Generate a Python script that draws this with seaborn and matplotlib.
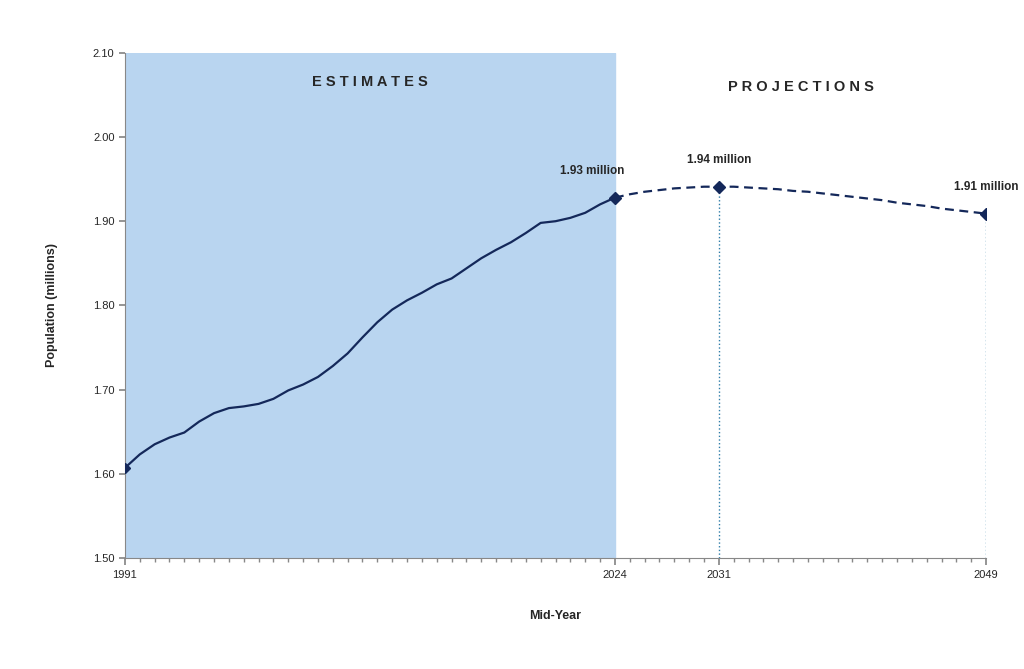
import seaborn as sns
import matplotlib.pyplot as plt
import numpy as np

sns.set_theme(style="white")
plt.rcParams['font.family'] = ['Liberation Sans', 'DejaVu Sans']

# Estimates, mid-year population (millions)
est_years = list(range(1991, 2025))
est_values = [1.607, 1.623, 1.635, 1.643, 1.649, 1.662, 1.672, 1.678, 1.680,
              1.683, 1.689, 1.699, 1.706, 1.715, 1.728, 1.743, 1.762, 1.780,
              1.795, 1.806, 1.815, 1.825, 1.832, 1.844, 1.856, 1.866, 1.875,
              1.886, 1.898, 1.900, 1.904, 1.910, 1.920, 1.928]
# Projections
proj_years = list(range(2024, 2050))
proj_values = [1.928, 1.932, 1.935, 1.937, 1.939, 1.940, 1.941, 1.941, 1.941,
               1.940, 1.939, 1.938, 1.936, 1.935, 1.933, 1.931, 1.929, 1.927,
               1.925, 1.922, 1.920, 1.918, 1.915, 1.913, 1.911, 1.909]
marked_years = [2024, 2031, 2049]
marked_labels = ["1.93 million", "1.94 million", "1.91 million"]

NAVY = "#14285a"
fig = plt.figure(figsize=(10.24, 6.69), dpi=100)
ax = fig.add_axes([0.122, 0.166, 0.841, 0.755])

ax.axvspan(est_years[0], est_years[-1], color="#b9d5f0", zorder=0)
sns.lineplot(x=est_years, y=est_values, ax=ax, color=NAVY, lw=1.6)
ax.plot(proj_years, proj_values, color=NAVY, lw=1.6, ls=(0, (4, 2.5)))

proj = dict(zip(proj_years, proj_values))
for yr, lab in zip(marked_years, marked_labels):
    v = proj[yr]
    ax.plot(yr, v, marker="D", color=NAVY, ms=6, zorder=5)
    if yr != 2024:
        ax.plot([yr, yr], [1.5, v], color="#2e7ca8", lw=1, ls=":")
    dx = -1.5 if yr == 2024 else 0
    ax.text(yr + dx, v + 0.025, lab, ha="center", va="bottom",
            fontsize=8.5, fontweight="bold")
ax.plot(est_years[0], est_values[0], marker="D", color=NAVY, ms=5, zorder=5)

ax.text(2007.5, 2.065, "ESTIMATES", ha="center", va="center", fontsize=10.5,
        fontweight="bold", family="Liberation Sans")
ax.text(2036.5, 2.06, "P R O J E C T I O N S", ha="center", va="center",
        fontsize=10.5, fontweight="bold")
ax.texts[-2].set_text("E S T I M A T E S")

ax.set_xlim(1991, 2049)
ax.set_ylim(1.5, 2.1)
ax.set_yticks(np.arange(1.5, 2.11, 0.1))
ax.set_yticklabels([f"{t:.2f}" for t in np.arange(1.5, 2.11, 0.1)], fontsize=8)
ax.set_xticks([1991, 2024, 2031, 2049])
ax.set_xticklabels(["1991", "2024", "2031", "2049"], fontsize=8)
ax.set_xticks(range(1991, 2050), minor=True)
ax.tick_params(axis="x", which="major", length=5, color="#888888", direction="out", bottom=True)
ax.tick_params(axis="x", which="minor", length=3, color="#888888", direction="out", bottom=True)
ax.tick_params(axis="y", length=4, color="#888888", direction="out", left=True)

for s in ["top", "right"]:
    ax.spines[s].set_visible(False)
for s in ["left", "bottom"]:
    ax.spines[s].set_color("#888888")
    ax.spines[s].set_linewidth(0.8)

ax.set_xlabel("Mid-Year", fontsize=9, fontweight="bold", labelpad=22)
ax.set_ylabel("Population (millions)", fontsize=9, fontweight="bold", labelpad=25)

fig.savefig("out.png", dpi=100)
